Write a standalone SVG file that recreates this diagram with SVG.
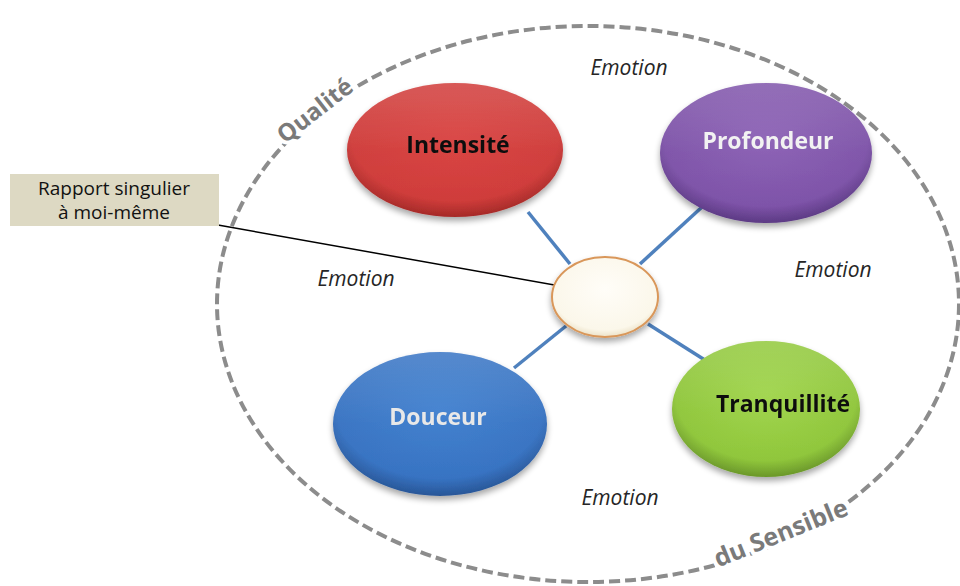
<svg xmlns="http://www.w3.org/2000/svg" width="960" height="586" viewBox="0 0 960 586">
  <defs>
    <style>
      .node-label { font-family: "Open Sans", "Liberation Sans", sans-serif; font-weight: bold; font-size: 23px; text-anchor: middle; }
      .emotion { font-family: "Open Sans", "Liberation Sans", sans-serif; font-style: italic; font-size: 21px; fill: #262626; text-anchor: middle; }
      .arc-label { font-family: "Open Sans", "Liberation Sans", sans-serif; font-weight: bold; fill: #7a7a7a; text-anchor: middle; stroke: #ffffff; stroke-width: 8; stroke-linejoin: round; paint-order: stroke; }
      .box-text { font-family: "Open Sans", "Liberation Sans", sans-serif; font-size: 19px; fill: #111111; text-anchor: middle; }
      .spoke { stroke: #4f81bd; stroke-width: 3.5; fill: none; }
    </style>
    <filter id="shadow" x="-20%" y="-20%" width="140%" height="150%">
      <feGaussianBlur in="SourceAlpha" stdDeviation="3"/>
      <feOffset dx="0" dy="4" result="b"/>
      <feComponentTransfer><feFuncA type="linear" slope="0.35"/></feComponentTransfer>
      <feMerge><feMergeNode/><feMergeNode in="SourceGraphic"/></feMerge>
    </filter>
    <radialGradient id="gRed" cx="50%" cy="40%" r="60%">
      <stop offset="0" stop-color="#d8403e"/>
      <stop offset="0.8" stop-color="#cf3b39"/>
      <stop offset="1" stop-color="#a52a28"/>
    </radialGradient>
    <radialGradient id="gPurple" cx="50%" cy="40%" r="60%">
      <stop offset="0" stop-color="#8a5fb4"/>
      <stop offset="0.8" stop-color="#7d52a8"/>
      <stop offset="1" stop-color="#5c3a84"/>
    </radialGradient>
    <radialGradient id="gBlue" cx="50%" cy="40%" r="60%">
      <stop offset="0" stop-color="#3d7ece"/>
      <stop offset="0.8" stop-color="#3672c2"/>
      <stop offset="1" stop-color="#285697"/>
    </radialGradient>
    <radialGradient id="gGreen" cx="50%" cy="40%" r="60%">
      <stop offset="0" stop-color="#9ed448"/>
      <stop offset="0.8" stop-color="#8fc63a"/>
      <stop offset="1" stop-color="#6a972a"/>
    </radialGradient>
    <radialGradient id="gCream" cx="50%" cy="40%" r="60%">
      <stop offset="0" stop-color="#fffdf8"/>
      <stop offset="0.85" stop-color="#fbf7ea"/>
      <stop offset="1" stop-color="#ece2c8"/>
    </radialGradient>
    <linearGradient id="gloss" x1="0" y1="0" x2="0" y2="1">
      <stop offset="0" stop-color="#ffffff" stop-opacity="0.15"/>
      <stop offset="0.5" stop-color="#ffffff" stop-opacity="0.03"/>
      <stop offset="1" stop-color="#ffffff" stop-opacity="0"/>
    </linearGradient>
  </defs>

  <rect width="960" height="586" fill="#ffffff"/>

  <!-- dashed outer boundary with its two labels sitting on the line -->
  <ellipse cx="588" cy="304" rx="371" ry="278" fill="none" stroke="#8c8c8c" stroke-width="4" stroke-dasharray="11 5"/>
  <text class="arc-label" font-size="24" transform="translate(320,117) rotate(-38)">Qualité</text>
  <text class="arc-label" font-size="25" transform="translate(784,541) rotate(-22)">du Sensible</text>

  <!-- connectors -->
  <g id="connectors">
    <line class="spoke" x1="528" y1="212" x2="570" y2="264"/>
    <line class="spoke" x1="702" y1="207" x2="640" y2="264"/>
    <line class="spoke" x1="514" y1="368" x2="566" y2="326"/>
    <line class="spoke" x1="708" y1="362" x2="648" y2="324"/>
    <line x1="218" y1="225" x2="605" y2="294" stroke="#000000" stroke-width="1.5"/>
  </g>

  <g id="intensite" filter="url(#shadow)">
    <ellipse cx="455" cy="150" rx="108" ry="67" fill="url(#gRed)"/>
    <ellipse cx="455" cy="150" rx="108" ry="67" fill="url(#gloss)"/>
    <text class="node-label" x="458" y="153" fill="#111111">Intensité</text>
  </g>

  <g id="profondeur" filter="url(#shadow)">
    <ellipse cx="766" cy="153" rx="106" ry="70" fill="url(#gPurple)"/>
    <ellipse cx="766" cy="153" rx="106" ry="70" fill="url(#gloss)"/>
    <text class="node-label" x="768" y="149" fill="#f2f2f2">Profondeur</text>
  </g>

  <g id="douceur" filter="url(#shadow)">
    <ellipse cx="440" cy="424" rx="107" ry="72" fill="url(#gBlue)"/>
    <ellipse cx="440" cy="424" rx="107" ry="72" fill="url(#gloss)"/>
    <text class="node-label" x="438" y="425" fill="#e8e8e8">Douceur</text>
  </g>

  <g id="tranquillite" filter="url(#shadow)">
    <ellipse cx="766" cy="409" rx="94" ry="68" fill="url(#gGreen)"/>
    <ellipse cx="766" cy="409" rx="94" ry="68" fill="url(#gloss)"/>
    <text class="node-label" x="783" y="412" fill="#111111">Tranquillité</text>
  </g>

  <g id="centre" filter="url(#shadow)">
    <ellipse cx="605" cy="297" rx="53" ry="40" fill="url(#gCream)" stroke="#d9975a" stroke-width="2"/>
  </g>

  <g id="rapport">
    <rect x="10" y="174" width="209" height="52" fill="#ddd9c3"/>
    <text class="box-text" x="114" y="195">Rapport singulier</text>
    <text class="box-text" x="114" y="219">à moi-même</text>
  </g>

  <g id="emotions">
    <text class="emotion" x="629" y="75">Emotion</text>
    <text class="emotion" x="356" y="286">Emotion</text>
    <text class="emotion" x="833" y="277">Emotion</text>
    <text class="emotion" x="620" y="505">Emotion</text>
  </g>
</svg>
